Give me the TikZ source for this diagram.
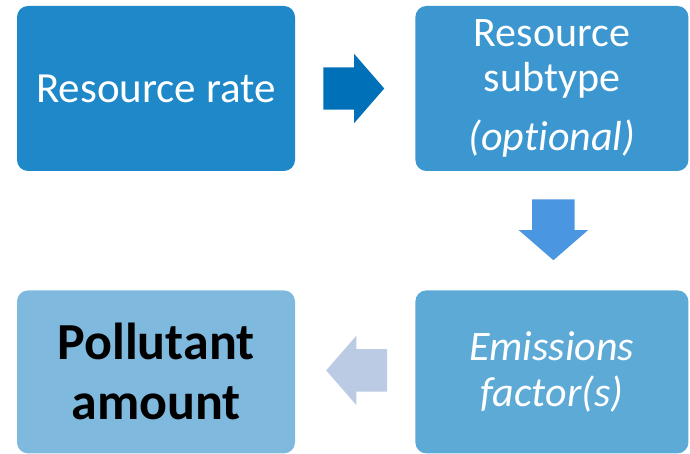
\documentclass[tikz,border=0pt]{standalone}
\usepackage{fontspec}
\setmainfont{Carlito}[Ligatures=NoCommon]
\usepackage{tikz}
\usetikzlibrary{
    shapes.arrows,
    positioning,
    calc
}
\definecolor{emrate}{HTML}{1E88C8}
\definecolor{emsubtype}{HTML}{3C97D0}
\definecolor{emfactor}{HTML}{5EAAD6}
\definecolor{emamount}{HTML}{7FB9DE}
\definecolor{emarrowdark}{HTML}{0070B9}
\definecolor{emarrowmid}{HTML}{4A96E0}
\definecolor{emarrowpale}{HTML}{BCCBE4}
\tikzset{
    % Filled step box
    embox/.style={
        rectangle,
        rounded corners=11pt,
        draw=none,
        fill=#1,
        text=white,
        minimum width=278pt,
        minimum height=165pt,
        align=center,
        inner sep=0pt
    },
    embox/.default=emrate,
    % Block arrow between steps
    emarrow/.style={
        single arrow,
        fill=#1,
        minimum height=60pt,
        single arrow head extend=13.5pt,
        single arrow tip angle=98,
        inner sep=21pt,
        anchor=tail
    },
    emarrow/.default=emarrowdark
}

\begin{document}
\begin{tikzpicture}

    \useasboundingbox (0pt,0pt) rectangle (690pt,-454pt);

    % Steps
    \node[embox=emrate, font=\fontsize{43}{48}\selectfont] (rate) at (156pt,-88.5pt) {Resource rate};
    \node[embox=emsubtype, minimum width=273pt, right=120pt of rate,
          font=\fontsize{42}{45}\selectfont] (subtype) {Resource\\subtype\\[14pt]\textit{(optional)}};
    \node[embox=emfactor, minimum width=273pt, minimum height=163pt, below=119pt of subtype,
          font=\fontsize{42}{46}\selectfont\itshape] (factor) {Emissions\\factor(s)};
    \node[embox=emamount, minimum height=163pt, below=119pt of rate, text=black,
          font=\fontsize{52}{60}\selectfont\bfseries] (amount) {Pollutant\\amount};

    % Arrows
    \node[emarrow=emarrowdark] (rate-sub) at ($(rate.east)+(28pt,0)$) {};
    \node[emarrow=emarrowmid, shape border rotate=270] (sub-fac) at ($(subtype.south)+(1.5pt,-28pt)$) {};
    \node[emarrow=emarrowpale, shape border rotate=180] (fac-amt) at ($(factor.west)+(-28pt,1.5pt)$) {};

\end{tikzpicture}
\end{document}
